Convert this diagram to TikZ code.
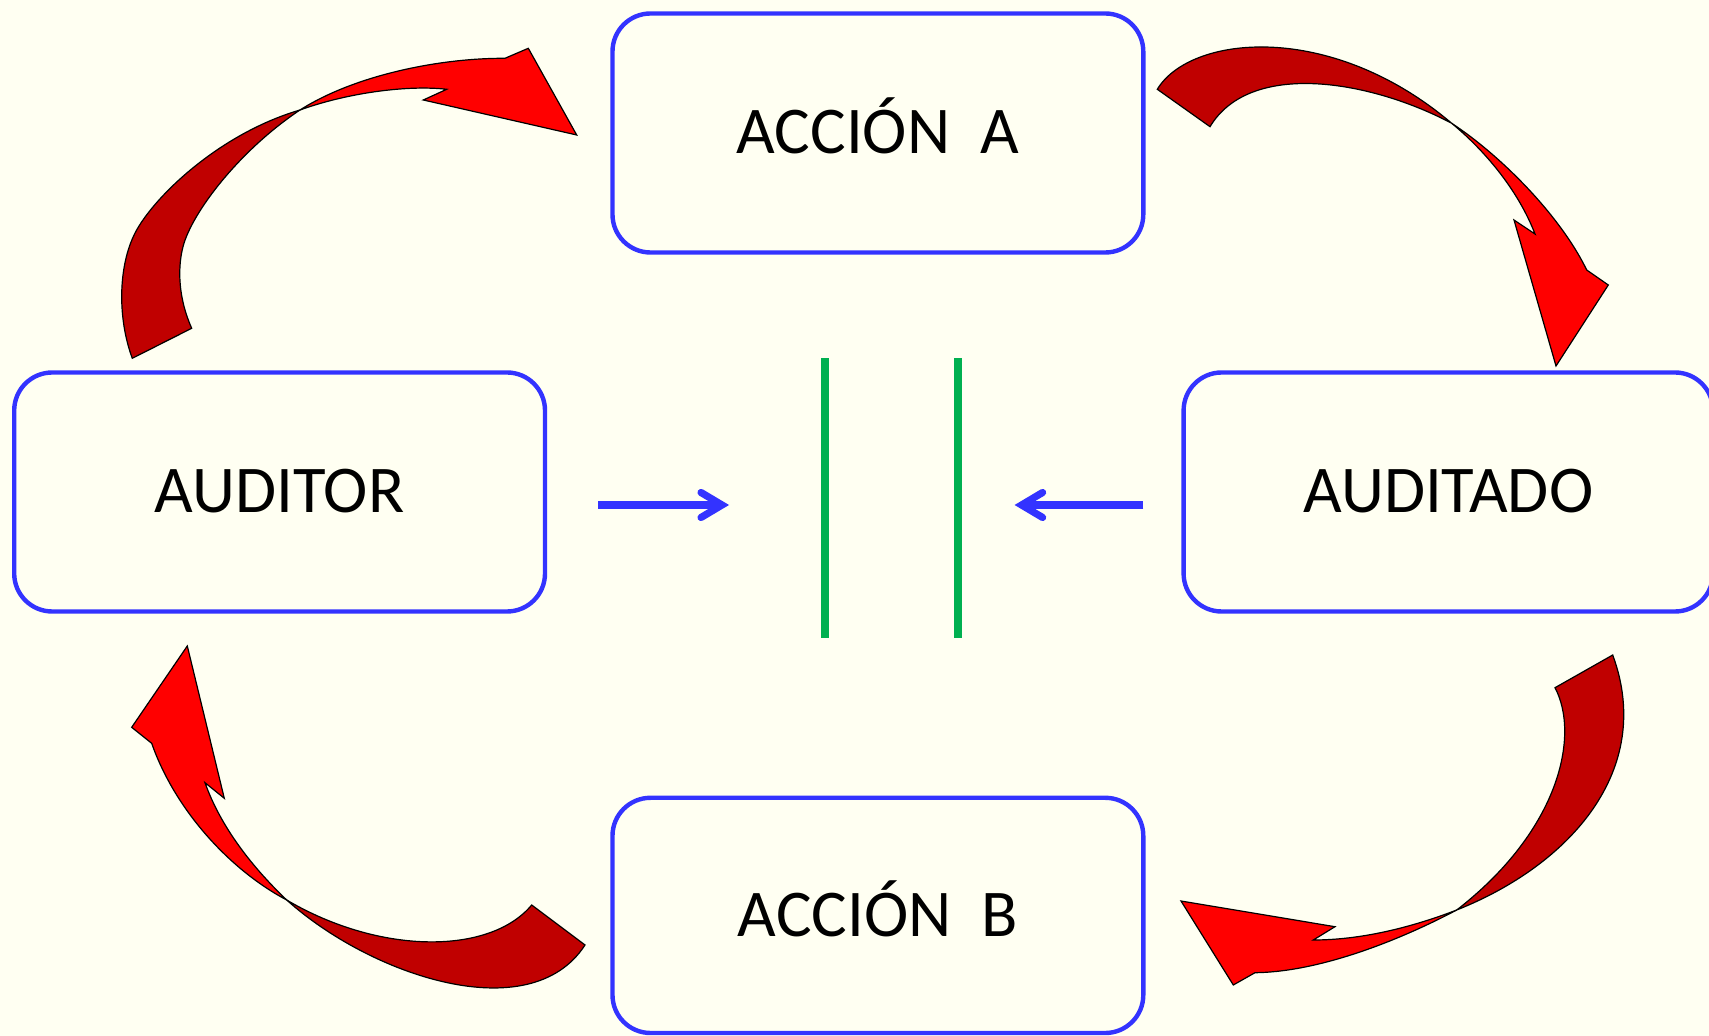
\documentclass[tikz,border=0pt]{standalone}
\usepackage{fontspec}
\setmainfont{Carlito}
\definecolor{bgcream}{RGB}{255,255,242}
\definecolor{boxblue}{RGB}{51,51,255}
\definecolor{bargreen}{RGB}{0,176,80}
\definecolor{redlight}{RGB}{255,0,0}
\definecolor{reddark}{RGB}{192,0,0}
\begin{document}
\begin{tikzpicture}[x=0.5pt,y=-0.5pt,
  box/.style={draw=boxblue, line width=2.2pt, rounded corners=19pt, inner sep=0pt,
    minimum width=265.4pt, minimum height=119.5pt,
    font=\fontsize{33.4}{40}\selectfont, text=black, text height=21pt, text depth=0pt},
  lightpart/.style={fill=redlight, draw=black, line width=0.6pt, line join=miter},
  darkpart/.style={fill=reddark, draw=black, line width=0.6pt, line join=miter},
  greenbar/.style={draw=bargreen, line width=3.6pt},
  shaft/.style={draw=boxblue, line width=3.6pt},
  chevron/.style={draw=boxblue, line width=3.6pt, line cap=round, line join=miter}
]
% background
\fill[bgcream] (0,0) rectangle (1709,1036);
\useasboundingbox (0,0) rectangle (1709,1036);

% ---- top-left curved arrow ----
\filldraw[darkpart] (132.3,358.3) .. controls (118,320) and (118,270) .. (133.3,236.7)
  .. controls (148,203) and (215,135) .. (300,110)
  .. controls (240,150) and (192,212) .. (183,246.7)
  .. controls (177,270) and (179,300) .. (191.7,328.3) -- cycle;
\filldraw[lightpart] (300,110) .. controls (355,75) and (440,58) .. (505,58.3)
  -- (528.3,48.3) -- (576.7,135) -- (423.3,100) -- (446.7,89.3)
  .. controls (410,85) and (350,92) .. (300,110) -- cycle;

% ---- top-right curved arrow ----
\filldraw[darkpart] (1157.3,89.3) .. controls (1190,35) and (1330,20) .. (1451.7,123.3)
  .. controls (1370,80) and (1250,60) .. (1210,126.7) -- cycle;
\filldraw[lightpart] (1451.7,123.3) .. controls (1500,155) and (1560,215) .. (1586.7,270)
  -- (1608.3,285) -- (1556,366) -- (1514,220) -- (1535,234)
  .. controls (1520,195) and (1490,155) .. (1451.7,123.3) -- cycle;

% ---- bottom-right curved arrow ----
\filldraw[darkpart] (1555,687.7) .. controls (1580,735) and (1560,830) .. (1456.7,910)
  .. controls (1570,865) and (1655,770) .. (1612.7,655) -- cycle;
\filldraw[lightpart] (1456.7,910) .. controls (1400,940) and (1320,972) .. (1255,972.7)
  -- (1233.3,985) -- (1181,901) -- (1335,926.7) -- (1313.3,940)
  .. controls (1360,940) and (1410,928) .. (1456.7,910) -- cycle;

% ---- bottom-left curved arrow ----
\filldraw[darkpart] (531.7,905) .. controls (490,955) and (380,955) .. (286.7,900)
  .. controls (370,975) and (530,1030) .. (585,945) -- cycle;
\filldraw[lightpart] (286.7,900) .. controls (230,870) and (175,810) .. (151.7,743.3)
  -- (131.7,727.3) -- (187.3,646) -- (224.3,798.3) -- (205,782.7)
  .. controls (220,825) and (250,865) .. (286.7,900) -- cycle;

% ---- boxes ----
\node[box] (accA) at (877.9,133) {ACCIÓN\ \ A};
\node[box] (auditor) at (279.6,492) {AUDITOR};
\node[box, minimum width=264.7pt] (auditado) at (1448.3,492) {AUDITADO};
\node[box, minimum height=117.6pt] (accB) at (877.9,915.4) {ACCIÓN\ \ B};

% ---- green bars ----
\coordinate (g1t) at (825,358.5);
\coordinate (g1b) at (825,637.6);
\coordinate (g2t) at (958,358.5);
\coordinate (g2b) at (958,637.6);
\draw[greenbar] (g1t) -- (g1b);
\draw[greenbar] (g2t) -- (g2b);

% ---- blue arrows ----
\coordinate (la0) at (598.4,505);
\coordinate (latip) at (722,505);
\coordinate (la1) at (701,492.5);
\coordinate (la2) at (701,517.5);
\draw[shaft] (la0) -- (latip);
\draw[chevron] (la1) -- (latip) -- (la2);

\coordinate (ra0) at (1143.3,505);
\coordinate (ratip) at (1021.6,505);
\coordinate (ra1) at (1042.6,492.5);
\coordinate (ra2) at (1042.6,517.5);
\draw[shaft] (ra0) -- (ratip);
\draw[chevron] (ra1) -- (ratip) -- (ra2);
\end{tikzpicture}
\end{document}
